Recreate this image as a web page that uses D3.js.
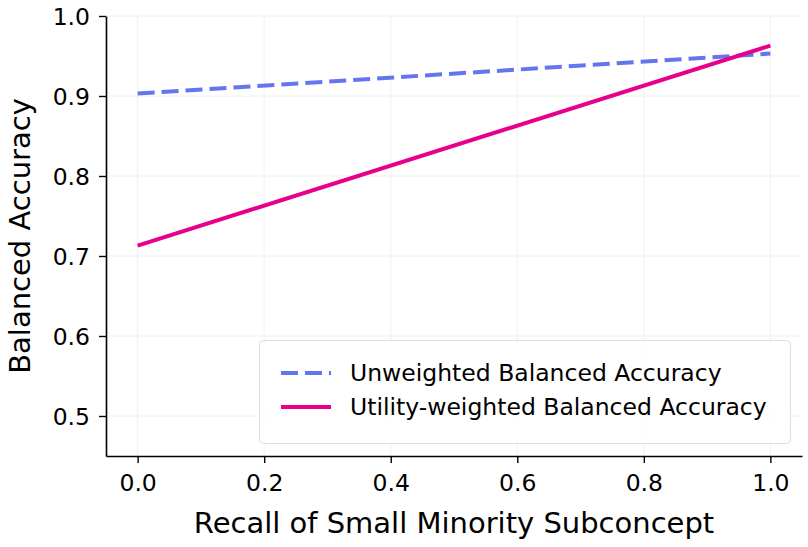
<!DOCTYPE html>
<html>
<head>
<meta charset="utf-8">
<script src="https://cdn.jsdelivr.net/npm/d3@7"></script>
<style>
  body { margin: 0; background: #fff; }
  svg { display: block; font-family: "DejaVu Sans", sans-serif; }
</style>
</head>
<body>
<svg class="chart"></svg>
<script>
// data
const recall = [0.0, 1.0];
const unweighted = [0.903, 0.953];
const utilityWeighted = [0.713, 0.963];
const xTicks = [0.0, 0.2, 0.4, 0.6, 0.8, 1.0];
const yTicks = [0.5, 0.6, 0.7, 0.8, 0.9, 1.0];
const seriesNames = ["Unweighted Balanced Accuracy", "Utility-weighted Balanced Accuracy"];

function makeChart() {
    const svgWidth = 808,
        svgHeight = 547;
    const margin = { top: 16, right: 6, bottom: 91, left: 106 };
    const width = svgWidth - margin.left - margin.right;
    const height = svgHeight - margin.top - margin.bottom;

    const canvas = d3.select(".chart")
        .attr("width", svgWidth)
        .attr("height", svgHeight);

    const plotArea = canvas.append("g")
        .attr("transform", `translate(${margin.left},${margin.top})`);

    // Scales
    const x = d3.scaleLinear().domain([-0.05, 1.05]).range([0, width]);
    const y = d3.scaleLinear().domain([0.45, 1.0]).range([height, 0]);

    // Grid
    plotArea.append("g")
        .selectAll("line")
        .data(xTicks)
        .enter().append("line")
        .attr("x1", d => x(d)).attr("x2", d => x(d))
        .attr("y1", 0).attr("y2", height)
        .attr("stroke", "#f0f0f0").attr("stroke-width", 1);
    plotArea.append("g")
        .selectAll("line")
        .data(yTicks)
        .enter().append("line")
        .attr("x1", 0).attr("x2", width)
        .attr("y1", d => y(d)).attr("y2", d => y(d))
        .attr("stroke", "#f0f0f0").attr("stroke-width", 1);

    // Axes
    const xAxis = plotArea.append("g")
        .attr("transform", `translate(0, ${height})`)
        .call(d3.axisBottom(x).tickValues(xTicks).tickFormat(d3.format(".1f")).tickSize(7).tickPadding(6).tickSizeOuter(0));
    const yAxis = plotArea.append("g")
        .call(d3.axisLeft(y).tickValues(yTicks).tickFormat(d3.format(".1f")).tickSize(7).tickPadding(9).tickSizeOuter(0));

    [xAxis, yAxis].forEach(a => {
        a.select(".domain").attr("stroke", "#000").attr("stroke-width", 1.6);
        a.selectAll(".tick line").attr("stroke", "#000").attr("stroke-width", 1.4);
        a.selectAll(".tick text")
            .attr("fill", "#000")
            .style("font-family", "DejaVu Sans")
            .style("font-size", "23.5px");
    });
    xAxis.selectAll(".tick text").attr("dy", "0.95em");
    yAxis.selectAll(".tick text").attr("dy", "0.36em");

    // Axis Labels
    canvas.append("text")
        .attr("x", margin.left + width / 2)
        .attr("y", 533)
        .attr("text-anchor", "middle")
        .style("font-size", "29px")
        .text("Recall of Small Minority Subconcept");

    canvas.append("text")
        .attr("transform", "rotate(-90)")
        .attr("x", -(margin.top + height / 2))
        .attr("y", 30)
        .attr("text-anchor", "middle")
        .style("font-size", "29px")
        .text("Balanced Accuracy");

    // Lines
    const line = d3.line()
        .x(d => x(d[0]))
        .y(d => y(d[1]));

    const series = [
        { name: seriesNames[0], values: d3.zip(recall, unweighted), color: "#6476ee", dash: "17,7" },
        { name: seriesNames[1], values: d3.zip(recall, utilityWeighted), color: "#e6008c", dash: null }
    ];

    series.forEach(s => {
        plotArea.append("path")
            .datum(s.values)
            .attr("fill", "none")
            .attr("stroke", s.color)
            .attr("stroke-width", 4)
            .attr("stroke-dasharray", s.dash)
            .attr("d", line);
    });

    // Legend
    const legend = canvas.append("g").attr("transform", "translate(259,340)");
    legend.append("rect")
        .attr("x", 0.5).attr("y", 0.5)
        .attr("width", 531).attr("height", 103)
        .attr("rx", 4)
        .attr("fill", "#fff").attr("fill-opacity", 0.8)
        .attr("stroke", "#dedede").attr("stroke-width", 1);

    series.forEach((s, i) => {
        const yy = 33 + i * 34;
        legend.append("line")
            .attr("x1", 22).attr("x2", 72)
            .attr("y1", yy).attr("y2", yy)
            .attr("stroke", s.color)
            .attr("stroke-width", 4)
            .attr("stroke-dasharray", s.dash);
        legend.append("text")
            .attr("x", 91).attr("y", yy)
            .attr("dy", "0.36em")
            .style("font-size", "23.5px")
            .text(s.name);
    });
}

makeChart();
</script>
</body>
</html>
